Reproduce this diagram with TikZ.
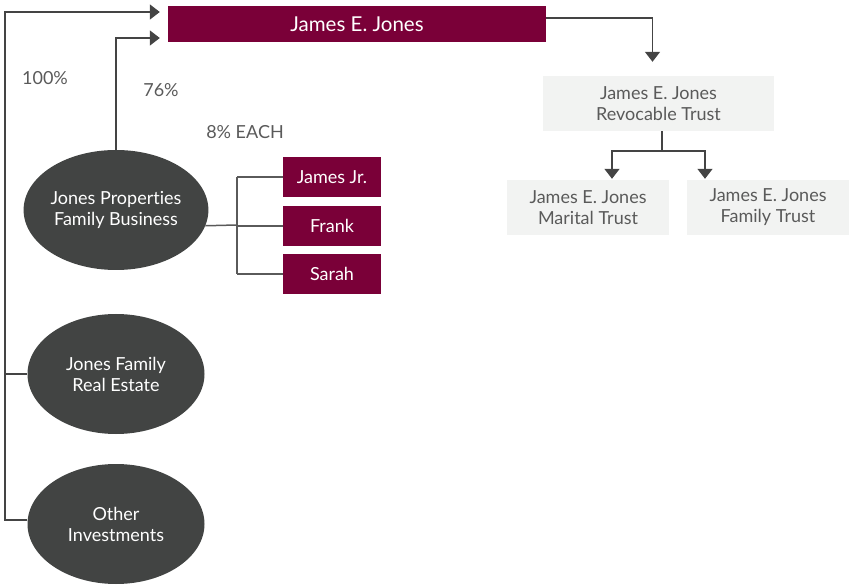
\documentclass[tikz,border=0pt]{standalone}
\usepackage{fontspec}
\setmainfont{Lato}[Ligatures=NoCommon]
\usepackage{tikz}
\usetikzlibrary{positioning}
\usetikzlibrary{arrows.meta,shapes.geometric}
\usetikzlibrary{calc}
\definecolor{maroon}{HTML}{7A0038}
\definecolor{darkoval}{HTML}{424443}
\definecolor{paleboxes}{HTML}{F2F3F2}
\definecolor{inkgrey}{HTML}{5A5A5A}
\definecolor{linegrey}{HTML}{444444}
\tikzstyle{owner}=[rectangle,fill=maroon,text=white,inner sep=0pt,minimum width=378pt,minimum height=36pt,font=\fontsize{20.5}{22}\selectfont]
\tikzstyle{heir}=[rectangle,fill=maroon,text=white,inner sep=0pt,minimum width=98pt,minimum height=40pt,font=\fontsize{18}{20}\selectfont]
\tikzstyle{holding}=[ellipse,fill=darkoval,text=white,inner sep=0pt,minimum width=177pt,minimum height=120pt,align=center,font=\fontsize{18}{21}\selectfont]
\tikzstyle{trust}=[rectangle,fill=paleboxes,text=inkgrey,inner sep=0pt,minimum width=162pt,minimum height=55pt,align=center,font=\fontsize{18}{21}\selectfont]
\tikzstyle{share} = [text=inkgrey,font=\fontsize{18}{20}\selectfont]
\tikzstyle{link} = [draw=linegrey,line width=1.5pt]
\tikzstyle{arrowlink} = [link,-{Triangle[width=15pt,length=10pt]}]

\begin{document}
\begin{tikzpicture}[x=1pt,y=-1pt]
    \useasboundingbox (0,0) rectangle (849,585);
    % the owner and the trusts
    \node[owner] (jones) at (357,24) {James E. Jones};
    \node[trust,minimum width=231pt] (revocable) at (658.5,103.5) {James E. Jones\\Revocable Trust};
    \node[trust] (marital) at (588,207.5) {James E. Jones\\Marital Trust};
    \node[trust] (family) at (768,207.5) {James E. Jones\\Family Trust};

    % the holdings on the left
    \foreach \pos/\name/\label in {{(116,210)/props/Jones Properties\\Family Business}, {(116,374)/realestate/Jones Family\\Real Estate}, {(116,524)/other/Other\\Investments}}
            \node[holding] (\name) at \pos {\label};

    % the children, 8% each
    \foreach \pos/\name/\label in {{(332,177)/jamesjr/James Jr.}, {(332,226)/frank/Frank}, {(332,274)/sarah/Sarah}}
            \node[heir] (\name) at \pos {\label};

    % share labels
    \node[share] (full) at (45,78) {100\%};
    \node[share] (most) at (161,90) {76\%};
    \node[share] (each) at (245,132) {8\% EACH};

    % the 100% line along the left edge
    \coordinate (spine) at (5,12);
    \draw[arrowlink, shorten >=8pt] ([yshift=4pt]other.west) -- ([yshift=4pt]other.west -| spine) -- (spine) -- ([yshift=12pt]jones.west);
    \draw[link] (realestate.west) -- (realestate.west -| spine);
    \draw[arrowlink, shorten >=8pt] (props.north) |- ([yshift=-14pt]jones.west);

    % the bracket to the children
    \coordinate (fork) at (237,225);
    \draw[link, draw=inkgrey] (props.-10) -- (fork);
    \draw[link, draw=inkgrey] (fork |- jamesjr.west) -- (fork |- sarah.west);
    \foreach \kid in {jamesjr, frank, sarah}
        \draw[link, draw=inkgrey] (fork |- \kid.west) -- (\kid.west);

    % into the trusts
    \draw[arrowlink, shorten >=14pt] ([yshift=6pt]jones.east) -| ([xshift=-6pt]revocable.north);
    \coordinate (split) at (662,151);
    \draw[link] (revocable.south -| split) -- (split);
    \draw[arrowlink, shorten >=1pt] (split) -| ([xshift=24pt]marital.north);
    \draw[arrowlink, shorten >=1pt] (split) -| ([xshift=-63pt]family.north);
\end{tikzpicture}
\end{document}
